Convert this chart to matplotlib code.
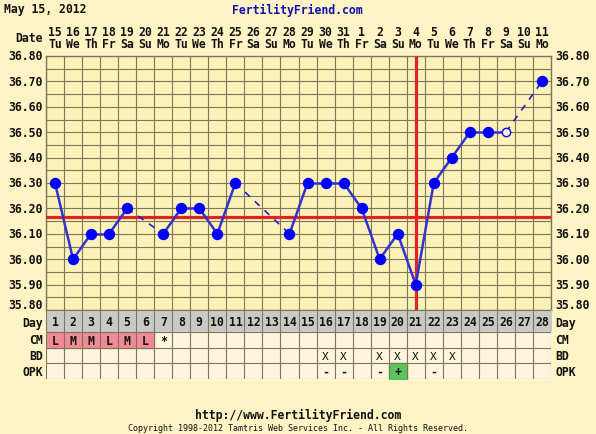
import matplotlib
matplotlib.use("Agg")
import matplotlib.pyplot as plt
import numpy as np

# ---------------- data ----------------
cycle_days = list(range(1, 29))
dates = [15, 16, 17, 18, 19, 20, 21, 22, 23, 24, 25, 26, 27, 28, 29, 30, 31,
         1, 2, 3, 4, 5, 6, 7, 8, 9, 10, 11]
weekdays = ["Tu", "We", "Th", "Fr", "Sa", "Su", "Mo"] * 4
temps = [36.30, 36.00, 36.10, 36.10, 36.20, None, 36.10, 36.20, 36.20, 36.10,
         36.30, None, None, 36.10, 36.30, 36.30, 36.30, 36.20, 36.00, 36.10,
         35.90, 36.30, 36.40, 36.50, 36.50, 36.50, None, 36.70]
discarded_days = [26]
coverline = 36.165
ovulation_day = 21
y_ticks = [36.80, 36.70, 36.60, 36.50, 36.40, 36.30, 36.20, 36.10, 36.00, 35.90, 35.80]
cm_days = [1, 2, 3, 4, 5, 6, 7]
cm_vals = ["L", "M", "M", "L", "M", "L", "*"]
cm_pink_days = [1, 2, 3, 4, 5, 6]
bd_days = [16, 17, 19, 20, 21, 22, 23]
opk_days = [16, 17, 19, 20, 22]
opk_vals = ["-", "-", "-", "+", "-"]
title_date = "May 15, 2012"
site = "FertilityFriend.com"
url = "http://www.FertilityFriend.com"
copyright_txt = "Copyright 1998-2012 Tamtris Web Services Inc. - All Rights Reserved."

# ---------------- style ----------------
W, H = 596, 435
BG = "#fdf3c4"
PLOT_BG = "#fcf1b8"
ROW_BG = "#fdf6dc"
DAY_BG = "#c9c9c6"
GRID = "#7d765c"
BLUE = "#0000ff"
LINE_BLUE = "#3333cc"
RED = "#e02424"
PINK = "#f08a96"
GREEN = "#5cc45c"
FONT = "DejaVu Sans Mono"

L, R, T, B = 46, 551, 57, 311   # plot area in pixels
TB = 380                          # table bottom


def fx(x):
    return x / W


def fy(y):
    return 1 - y / H


fig = plt.figure(figsize=(W / 100, H / 100), dpi=100, facecolor=BG)

# ---- temperature axes ----
ax = fig.add_axes([fx(L), fy(B), fx(R) - fx(L), fy(T) - fy(B)])
ax.set_facecolor(PLOT_BG)
ax.set_xlim(0.5, 28.5)
ax.set_ylim(35.80, 36.80)
for k in range(29):
    ax.axvline(0.5 + k, color=GRID, lw=0.8, zorder=1)
for v in np.arange(35.80, 36.801, 0.05):
    ax.axhline(v, color=GRID, lw=0.8, zorder=1)
for s in ax.spines.values():
    s.set_color(GRID)
    s.set_linewidth(1.0)
ax.set_xticks([])
ax.set_yticks([])

ax.axhline(coverline, color=RED, lw=2.3, zorder=3)
ax.axvline(ovulation_day, color=RED, lw=2.3, zorder=3)

valid = [(d, t) for d, t in zip(cycle_days, temps) if t is not None]
for (d0, t0), (d1, t1) in zip(valid[:-1], valid[1:]):
    if d1 - d0 == 1:
        ax.plot([d0, d1], [t0, t1], color=LINE_BLUE, lw=1.8, zorder=4,
                solid_capstyle="round")
    else:
        ax.plot([d0, d1], [t0, t1], color="#2222bb", lw=1.2, zorder=4,
                dashes=(4, 4))
for d, t in valid:
    if d in discarded_days:
        ax.plot(d, t, marker="o", ms=6, mfc="#fdf8e0", mec=BLUE, mew=1.0, zorder=5)
    else:
        ax.plot(d, t, marker="o", ms=7.2, mfc=BLUE, mec=BLUE, zorder=5)

# ---- table axes ----
tax = fig.add_axes([fx(L), fy(TB), fx(R) - fx(L), fy(B) - fy(TB)])
tax.set_xlim(0.5, 28.5)
tax.set_ylim(TB, B)
tax.axis("off")
rows = [(B, 333), (333, 349), (349, 364), (364, TB)]
tax.fill_between([0.5, 28.5], rows[0][0], rows[0][1], color=DAY_BG, zorder=0)
tax.fill_between([0.5, 28.5], rows[1][0], TB, color=ROW_BG, zorder=0)
for d in cm_pink_days:
    tax.fill_between([d - 0.5, d + 0.5], rows[1][0], rows[1][1], color=PINK, zorder=0.5)
for d, v in zip(opk_days, opk_vals):
    if v == "+":
        tax.fill_between([d - 0.5, d + 0.5], rows[3][0], rows[3][1], color=GREEN, zorder=0.5)
for k in range(29):
    tax.plot([0.5 + k, 0.5 + k], [B, TB], color=GRID, lw=0.8, zorder=1)
for yb in [B, 333, 349, 364, TB]:
    tax.plot([0.5, 28.5], [yb, yb], color=GRID, lw=0.8, zorder=1)

txt = dict(fontfamily=FONT, fontweight="bold", fontsize=8.3, color="#111111")
for d in cycle_days:
    tax.text(d, (rows[0][0] + rows[0][1]) / 2, str(d), ha="center", va="center", zorder=3, **txt)
for d, v in zip(cm_days, cm_vals):
    tax.text(d, (rows[1][0] + rows[1][1]) / 2 + 0.5, v, ha="center", va="center", zorder=3, **txt)
for d in bd_days:
    tax.text(d, (rows[2][0] + rows[2][1]) / 2 + 0.5, "X", ha="center", va="center", zorder=3,
             fontfamily=FONT, fontsize=8, color="#111111")
for d, v in zip(opk_days, opk_vals):
    tax.text(d, (rows[3][0] + rows[3][1]) / 2 + 0.5, v, ha="center", va="center", zorder=3, **txt)

# ---- labels ----
for v in y_ticks:
    yp = T + (36.80 - v) / 1.0 * (B - T)
    if abs(v - 35.80) < 1e-6:
        yp -= 5
    fig.text(fx(43), fy(yp), f"{v:.2f}", ha="right", va="center", **txt)
    fig.text(fx(555), fy(yp), f"{v:.2f}", ha="left", va="center", **txt)

row_names = ["Day", "CM", "BD", "OPK"]
for i, (name, (y0, y1)) in enumerate(zip(row_names, rows)):
    yc = (y0 + y1) / 2 + (1.5 if i == 0 else 0)
    fig.text(fx(43), fy(yc), name, ha="right", va="center", **txt)
    fig.text(fx(555), fy(yc), name, ha="left", va="center", **txt)

col_w = (R - L) / 28
for i, (dt, wd) in enumerate(zip(dates, weekdays)):
    xc = L + col_w * (i + 0.5)
    fig.text(fx(xc), fy(32), str(dt), ha="center", va="center", **txt)
    fig.text(fx(xc), fy(45), wd, ha="center", va="center", **txt)
fig.text(fx(43), fy(38.5), "Date", ha="right", va="center", **txt)

fig.text(fx(4), fy(10), title_date, ha="left", va="center", **txt)
fig.text(fx(297), fy(10), site, ha="center", va="center",
         fontfamily=FONT, fontweight="bold", fontsize=8.3, color="#1010b0")
fig.text(fx(298), fy(415), url, ha="center", va="center", **txt)
fig.text(fx(298), fy(429), copyright_txt, ha="center", va="center",
         fontfamily=FONT, fontsize=6.0, color="#111111")

fig.savefig("out.png", dpi=100, facecolor=BG)
